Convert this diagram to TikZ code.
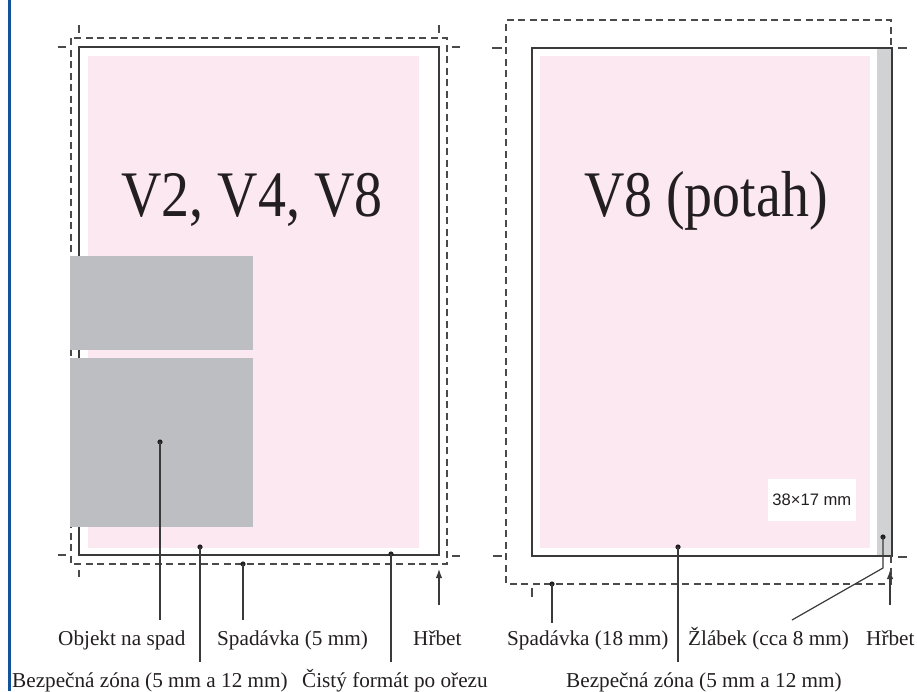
\documentclass[tikz,border=0pt]{standalone}
\usepackage{fontspec}
\setmainfont{Liberation Serif}
\newfontfamily\bigfont[FakeStretch=0.86]{Liberation Serif}
\newfontfamily\sansf{Liberation Sans}
\usetikzlibrary{arrows.meta}
\definecolor{pinkz}{HTML}{FCE8F0}
\definecolor{objgrey}{HTML}{BDBEC1}
\definecolor{stripgrey}{HTML}{D1D2D4}
\definecolor{lineK}{HTML}{3A3A3A}
\definecolor{cutgrey}{HTML}{4A4A4A}
\definecolor{blueb}{HTML}{13539E}
\definecolor{inkK}{HTML}{231F20}
\begin{document}
\begin{tikzpicture}[x=1pt,y=-1pt,
  trim/.style={draw=lineK, line width=1.5pt},
  bleed/.style={draw=cutgrey, line width=1.2pt, dash pattern=on 7pt off 4.5pt},
  cropmark/.style={draw=cutgrey, line width=1.2pt},
  lead/.style={draw=lineK, line width=1.2pt},
  dotn/.style={circle, fill=inkK, inner sep=0pt, minimum size=5.2pt},
  lbl/.style={anchor=base west, inner sep=0pt, font=\fontsize{21.2}{24}\selectfont, text=inkK},
  big/.style={anchor=base, inner sep=0pt, font=\bigfont\fontsize{65}{70}\selectfont, text=inkK},
  spine/.style={draw=lineK, line width=1.2pt, -{Latex[length=9pt,width=6.5pt]}}
]
\useasboundingbox (0,0) rectangle (917,691);
\fill[white] (0,0) rectangle (917,691);
% blue margin line
\draw[blueb, line width=2.7pt] (9.7,0) -- (9.7,691);

% ---------- left page ----------
\fill[pinkz] (88,56) rectangle (419,548);
\draw[trim] (79,47) rectangle (439,555);
\draw[bleed] (71,38) rectangle (447,564);
\fill[objgrey] (70,256) rectangle (253,350);
\fill[objgrey] (70,358) rectangle (253,527);
% crop marks
\draw[cropmark] (79,25) -- (79,33);
\draw[cropmark] (439,25) -- (439,33);
\draw[cropmark] (58,47) -- (66,47);
\draw[cropmark] (452,47) -- (460,47);
\draw[cropmark] (58,555) -- (66,555);
\draw[cropmark] (452,556) -- (460,556);
\draw[cropmark] (79,570) -- (79,577);

\node[big] (t1) at (252,216) {V2, V4, V8};

% dots
\node[dotn] (d1) at (160,442) {};
\node[dotn] (d2) at (200,547) {};
\node[dotn] (d3) at (243,564) {};
\node[dotn] (d4) at (391,554) {};
\coordinate (e1) at (160,620);
\coordinate (e2) at (200,662);
\coordinate (e3) at (243,620);
\coordinate (e4) at (391,662);
\draw[lead] (d1.center) -- (e1);
\draw[lead] (d2.center) -- (e2);
\draw[lead] (d3.center) -- (e3);
\draw[lead] (d4.center) -- (e4);
\coordinate (hb1) at (439,605);
\coordinate (ht1) at (439,569);
\draw[spine] (hb1) -- (ht1);

\node[lbl] (l1) at (58,645) {Objekt na spad};
\node[lbl] (l2) at (217,645) {Spadávka (5 mm)};
\node[lbl] (l3) at (413,645) {Hřbet};
\node[lbl] (l4) at (12,687) {Bezpečná zóna (5 mm a 12 mm)};
\node[lbl] (l5) at (302,687) {Čistý formát po ořezu};

% ---------- right page ----------
\fill[pinkz] (540,56) rectangle (870,548);
\fill[stripgrey] (877,48) rectangle (891,556);
\draw[trim] (532,48) rectangle (892,556);
\draw[bleed] (891,556) -- (891,584) -- (506,584) -- (506,20) -- (891,20) -- (891,48);
\draw[cropmark] (492,48) -- (502,48);
\draw[cropmark] (898,48) -- (907,48);
\draw[cropmark] (493,556) -- (502,556);
\draw[cropmark] (898,557) -- (907,557);
\draw[cropmark] (532,588) -- (532,597);

\node[big] (t2) at (706,216) {V8 (potah)};
\node[fill=white, inner xsep=4.5pt, inner ysep=0pt, minimum height=42pt, anchor=east,
      font=\sansf\fontsize{16.6}{19}\selectfont, text=inkK] (sz) at (856,500) {38×17 mm};

\node[dotn] (d5) at (552,584) {};
\node[dotn] (d6) at (678,547) {};
\node[dotn] (d7) at (883,537) {};
\coordinate (e5) at (552,623);
\coordinate (e6) at (678,662);
\coordinate (k7) at (883,568);
\coordinate (e7) at (792,620);
\draw[lead] (d5.center) -- (e5);
\draw[lead] (d6.center) -- (e6);
\draw[lead] (d7.center) -- (k7) -- (e7);
\coordinate (hb2) at (890,605);
\coordinate (ht2) at (890,570);
\draw[spine] (hb2) -- (ht2);

\node[lbl] (r1) at (507,645) {Spadávka (18 mm)};
\node[lbl] (r2) at (688,645) {Žlábek (cca 8 mm)};
\node[lbl] (r3) at (866,645) {Hřbet};
\node[lbl] (r4) at (566,687) {Bezpečná zóna (5 mm a 12 mm)};
\end{tikzpicture}
\end{document}
